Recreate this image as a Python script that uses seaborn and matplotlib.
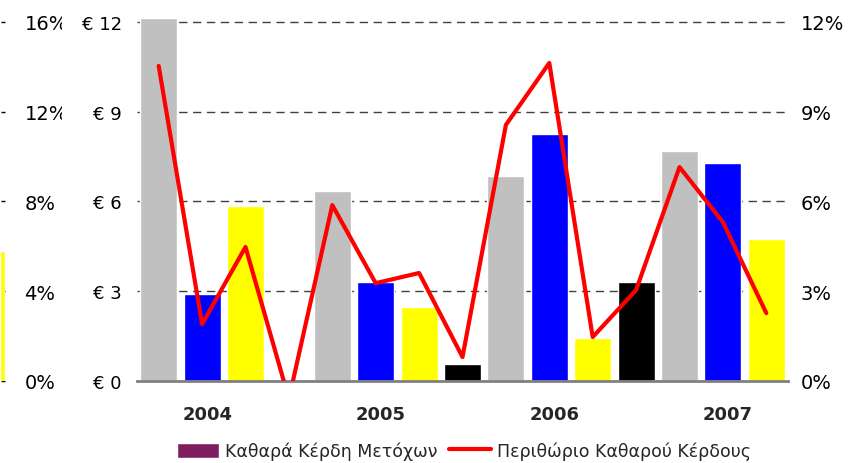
import matplotlib
matplotlib.use('Agg')
import matplotlib.pyplot as plt
from matplotlib.patches import Patch, Rectangle
from matplotlib.lines import Line2D
import pandas as pd
import seaborn as sns

# Quarterly data, 2004 Q1 .. 2007 Q3
years = ['2004', '2005', '2006', '2007']
quarters = ['Q1', 'Q2', 'Q3', 'Q4']
eps = [12.13, 2.91, 5.85, -0.3,
       6.35, 3.30, 2.47, 0.57,
       6.85, 8.26, 1.44, 3.31,
       7.69, 7.29, 4.75]
margin = [10.53, 1.90, 4.48, -0.6,
          5.88, 3.27, 3.61, 0.80,
          8.56, 10.63, 1.47, 3.04,
          7.15, 5.31, 2.27]
quarter_colors = {'Q1': '#C0C0C0', 'Q2': '#0000FF', 'Q3': '#FFFF00', 'Q4': '#000000'}
eur_ticks = [0, 3, 6, 9, 12]
pct_ticks = [0, 3, 6, 9, 12]
# fragment of the neighbouring chart at the left edge
frag_value = [5.78]
frag_ticks = [0, 4, 8, 12, 16]

legend_labels = ['Καθαρά Κέρδη Μετόχων', 'Περιθώριο Καθαρού Κέρδους']

df = pd.DataFrame({
    'slot': list(range(len(eps))),
    'quarter': [quarters[i % 4] for i in range(len(eps))],
    'eps': eps,
    'margin': margin,
})

sns.set_style('white')
plt.rcParams['font.family'] = ['DejaVu Sans']

W, H = 848, 464
fig = plt.figure(figsize=(W / 100, H / 100), dpi=100)
bottom = 1 - 382 / H
height = (382 - 18.5) / H

# left fragment
ax0 = fig.add_axes([0, bottom, 5 / W, height])
sns.barplot(x=[0], y=frag_value, color='#FFFF00', saturation=1, width=1, ax=ax0)
ax0.set_xlim(-0.5, 0.5)
ax0.set_ylim(0, 16 * 12.15 / 12)
for s in ax0.spines.values():
    s.set_visible(False)
ax0.set_xticks([])
ax0.yaxis.tick_right()
ax0.set_yticks(frag_ticks)
ax0.set_yticklabels([f'{t}%' for t in frag_ticks])
ax0.tick_params(axis='y', direction='in', length=3, width=1, pad=14, labelsize=14, colors='black')
ax0.set_ylabel('')
ax0.set_zorder(0)

# white cover clipping the fragment labels
fig.add_artist(Rectangle((62 / W, 0), (137 - 62) / W, 1, transform=fig.transFigure,
                         facecolor='white', edgecolor='none', zorder=1))

# main chart
ax = fig.add_axes([137 / W, bottom, (788 - 137) / W, height])
ax.set_zorder(2)
sns.barplot(data=df, x='slot', y='eps', hue='quarter', palette=quarter_colors,
            native_scale=True, width=0.85, dodge=False, saturation=1,
            errorbar=None, legend=False, ax=ax)
ax.set_xlim(-0.5, 14.5)
ax.set_ylim(0, 12.15)
ax.set_yticks(eur_ticks)
ax.set_yticklabels([f'€ {t}' for t in eur_ticks])
ax.tick_params(axis='y', length=0, pad=11, labelsize=13, colors='black')
ax.set_axisbelow(True)
ax.yaxis.grid(True, linestyle=(0, (6, 4)), color='#404040', linewidth=1)
ax.xaxis.grid(False)
for side in ['top', 'right', 'left']:
    ax.spines[side].set_visible(False)
ax.spines['bottom'].set_color('#808080')
ax.spines['bottom'].set_linewidth(2)

ax.set_xticks([-0.5, 3.5, 7.5, 11.5])
ax.set_xticklabels([])
ax.tick_params(axis='x', which='major', direction='inout', length=9, width=1, color='black')
ax.set_xticks([4 * i + 1.12 for i in range(len(years))], minor=True)
ax.set_xticklabels(years, minor=True, fontweight='bold', fontsize=13)
ax.tick_params(axis='x', which='minor', length=0, pad=17)
ax.set_xlabel('')
ax.set_ylabel('')

# margin line on right axis
ax2 = ax.twinx()
sns.lineplot(data=df, x='slot', y='margin', color='#FF0000', linewidth=3, ax=ax2)
ax2.set_ylim(0, 12.15)
ax2.set_yticks(pct_ticks)
ax2.set_yticklabels([f'{t}%' for t in pct_ticks])
ax2.tick_params(axis='y', length=0, pad=9, labelsize=14, colors='black')
for s in ax2.spines.values():
    s.set_visible(False)
ax2.set_ylabel('')
ax2.set_xlim(-0.5, 14.5)
ax2.grid(False)

handles = [Patch(facecolor='#7F1F5F', label=legend_labels[0]),
           Line2D([], [], color='#FF0000', linewidth=3, label=legend_labels[1])]
fig.legend(handles=handles, loc='center', bbox_to_anchor=(464 / W, 1 - 452 / H),
           ncol=2, frameon=False, fontsize=12.5, handlelength=2.4, handleheight=1.0,
           handletextpad=0.35, columnspacing=0.7)

fig.savefig('out.png', dpi=100)
